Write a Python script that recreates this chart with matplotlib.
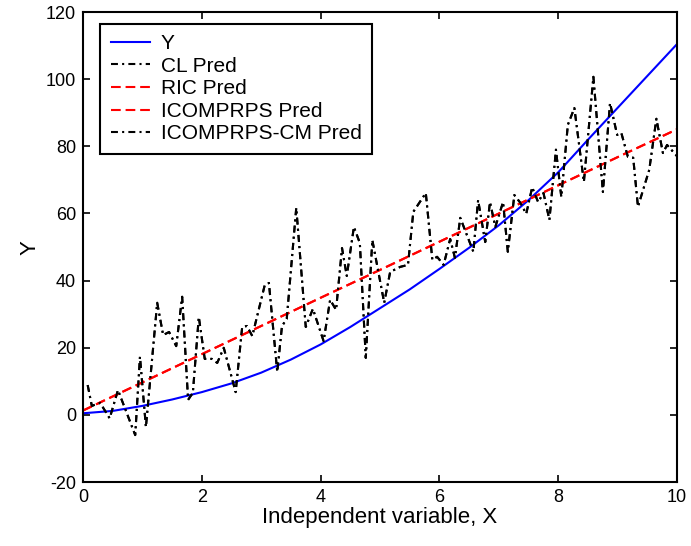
import matplotlib
matplotlib.use("Agg")
import matplotlib.pyplot as plt

plt.rcParams['font.family'] = ['Liberation Sans', 'DejaVu Sans']
plt.rcParams['lines.scale_dashes'] = False
plt.rcParams['axes.unicode_minus'] = False

# True response Y
y_x = [0.0, 0.5, 1.0, 1.5, 2.0, 2.5, 3.0, 3.5, 4.0, 4.5, 5.0, 5.5, 6.0, 6.5, 7.0,
       7.5, 8.0, 8.5, 9.0, 9.5, 10.0]
y_true = [0.5, 1.2, 2.7, 4.6, 6.8, 9.4, 12.6, 16.5, 21.0, 26.2, 31.8, 37.4, 43.5,
          49.8, 56.5, 64.0, 72.3, 82.0, 91.5, 101.0, 110.5]

# Linear predictions (RIC and ICOMPRPS overlap)
lin_x = [0.0, 1.0, 2.0, 3.0, 4.0, 5.0, 6.0, 7.0, 8.0, 9.0, 10.0]
ric_pred = [1.3, 9.7, 18.1, 26.5, 34.9, 43.2, 51.6, 60.0, 68.4, 76.8, 85.1]
icomp_pred = [1.3, 9.7, 18.1, 26.5, 34.9, 43.2, 51.6, 60.0, 68.4, 76.8, 85.1]

# Noisy predictions (CL and ICOMPRPS-CM overlap)
noisy_x = [0.08, 0.15, 0.29, 0.45, 0.59, 0.88, 0.96, 1.06, 1.25, 1.35, 1.45, 1.57,
           1.67, 1.77, 1.85, 1.95, 2.05, 2.17, 2.26, 2.37, 2.57, 2.68, 2.76, 2.85,
           3.06, 3.13, 3.27, 3.35, 3.43, 3.59, 3.75, 3.87, 4.05, 4.16, 4.26, 4.36,
           4.44, 4.56, 4.66, 4.76, 4.87, 5.07, 5.17, 5.34, 5.47, 5.56, 5.77, 5.88,
           5.96, 6.07, 6.18, 6.26, 6.35, 6.57, 6.65, 6.77, 6.85, 6.94, 7.07, 7.15,
           7.26, 7.36, 7.46, 7.56, 7.66, 7.75, 7.85, 7.96, 8.05, 8.16, 8.27, 8.43,
           8.59, 8.75, 8.87, 8.99, 9.06, 9.17, 9.26, 9.34, 9.53, 9.65, 9.76, 9.83,
           10.0]
cl_pred = [8.9, 2.7, 3.6, -1.0, 7.4, -6.0, 17.3, -3.6, 33.4, 23.8, 24.7, 20.5,
           35.2, 4.5, 6.6, 29.2, 16.7, 16.7, 15.5, 20.0, 6.8, 26.2, 26.5, 23.5,
           38.7, 39.3, 12.8, 26.5, 28.6, 61.7, 26.2, 31.6, 22.0, 34.3, 31.3, 49.7,
           41.4, 56.0, 51.2, 17.0, 52.1, 33.4, 42.6, 44.1, 44.7, 60.5, 66.1, 46.2,
           47.1, 44.7, 52.4, 46.8, 58.7, 48.6, 64.0, 51.5, 63.4, 56.0, 63.4, 48.6,
           65.5, 63.2, 59.9, 67.8, 63.4, 66.1, 58.1, 79.0, 64.9, 86.4, 91.4, 69.4,
           100.7, 66.4, 92.9, 83.4, 84.0, 76.9, 76.6, 62.0, 73.0, 88.2, 78.0, 80.4,
           77.0]
cm_pred = list(cl_pred)

fig = plt.figure(figsize=(6.91, 5.46), dpi=100)
ax = fig.add_axes([0.120, 0.117, 0.860, 0.861])

ax.plot(y_x, y_true, color='#0000ff', lw=1.5, label='Y')
ax.plot(noisy_x, cl_pred, color='black', lw=1.5, dashes=(5, 3, 1.5, 3), label='CL Pred')
ax.plot(lin_x, ric_pred, color='#ff0000', lw=1.5, dashes=(7, 3.5), label='RIC Pred')
ax.plot(lin_x, icomp_pred, color='#ff0000', lw=1.5, dashes=(7, 3.5), label='ICOMPRPS Pred')
ax.plot(noisy_x, cm_pred, color='black', lw=1.5, dashes=(5, 3, 1.5, 3), label='ICOMPRPS-CM Pred')

ax.set_xlim(0, 10)
ax.set_ylim(-20, 120)
ax.set_xticks([0, 2, 4, 6, 8, 10])
ax.set_yticks([-20, 0, 20, 40, 60, 80, 100, 120])
ax.tick_params(direction='in', top=True, right=True, length=5, width=1.2, labelsize=13, pad=5)
for s in ax.spines.values():
    s.set_linewidth(1.5)

ax.set_xlabel('Independent variable, X', fontsize=16, labelpad=1)
ax.set_ylabel('Y', fontsize=16, labelpad=4)

leg = ax.legend(loc='upper left', bbox_to_anchor=(0.029, 0.975), fontsize=15,
                handlelength=1.9, handletextpad=0.5, labelspacing=0.17,
                borderpad=0.5, borderaxespad=0.0, fancybox=False, framealpha=1,
                edgecolor='black')
leg.get_frame().set_linewidth(1.5)

fig.savefig('out.png', dpi=100)
